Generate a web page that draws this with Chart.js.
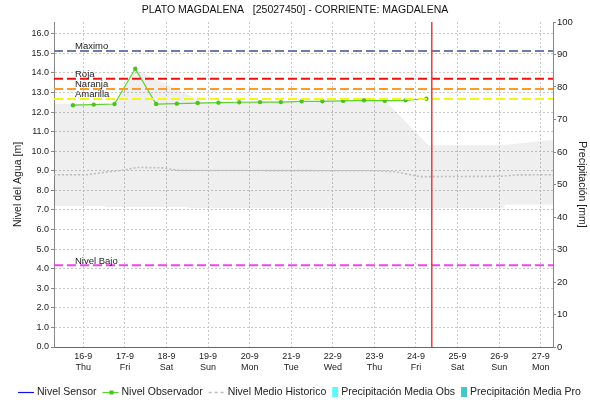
<!DOCTYPE html>
<html>
<head>
<meta charset="utf-8">
<script src="https://cdn.jsdelivr.net/npm/chart.js@4.4.1/dist/chart.umd.min.js"></script>
<style>
  html, body { margin: 0; padding: 0; background: #fff; }
</style>
</head>
<body>
<canvas id="chart" width="590" height="402"></canvas>
<script>
'use strict';

// time axis is in days of September (15.5 = 15-9 12:00)
var xMin = 15.295;
var xMax = 27.295;
var dayTicks = [16, 17, 18, 19, 20, 21, 22, 23, 24, 25, 26, 27];
var dayNames = ['Thu', 'Fri', 'Sat', 'Sun', 'Mon', 'Tue', 'Wed', 'Thu', 'Fri', 'Sat', 'Sun', 'Mon'];
var levelTicks = [0, 1, 2, 3, 4, 5, 6, 7, 8, 9, 10, 11, 12, 13, 14, 15, 16];

// observer readings, twice a day
var obsTimes = [15.75, 16.25, 16.75, 17.25, 17.75, 18.25, 18.75, 19.25, 19.75,
                20.25, 20.75, 21.25, 21.75, 22.25, 22.75, 23.25, 23.75, 24.25];
var obsLevels = [12.35, 12.38, 12.41, 14.21, 12.41, 12.43, 12.46, 12.48, 12.50,
                 12.51, 12.51, 12.55, 12.55, 12.57, 12.60, 12.58, 12.60, 12.68];

// historical mean level
var meanTimes = [15.295, 16.1, 16.5, 17.0, 17.3, 17.9, 18.3, 23.0, 23.5, 24.1, 26.05, 26.4, 27.295];
var meanLevels = [8.80, 8.80, 8.92, 9.05, 9.17, 9.15, 9.02, 9.00, 8.95, 8.70, 8.72, 8.79, 8.80];

// historical range (shaded band)
var bandTopTimes = [15.295, 16.75, 17.27, 18.9, 23.25, 24.3, 26.05, 27.295];
var bandTopLevels = [12.42, 12.42, 14.15, 12.50, 12.60, 10.30, 10.30, 10.58];
var bandLowTimes = [15.295, 16.5, 16.55, 18.5, 18.55, 26.1, 26.15, 27.295];
var bandLowLevels = [7.20, 7.20, 7.15, 7.15, 7.09, 7.09, 7.26, 7.26];

// alert levels
var alertNames = ['Maximo', 'Roja', 'Naranja', 'Amarilla', 'Nivel Bajo'];
var alertLevels = [15.12, 13.70, 13.18, 12.67, 4.18];
var alertColors = ['#6b7ca6', '#f01010', '#ff9a2a', '#f4f415', '#ee44ee'];

var sensorLevels = [];
var precipObs = [];
var precipPro = [];

var nowTime = 24.38;

var fontFamily = '"Liberation Sans", Arial, sans-serif';

function pts(xs, ys) {
  var out = [];
  for (var i = 0; i < xs.length; i++) {
    out.push({x: xs[i], y: ys[i]});
  }
  return out;
}

var datasets = [
  {
    label: 'Nivel Sensor',
    legendKind: 'line',
    data: sensorLevels,
    borderColor: '#1010ee',
    borderWidth: 1.5,
    pointRadius: 0,
    order: 2
  },
  {
    label: 'Nivel Observador',
    legendKind: 'marker',
    data: pts(obsTimes, obsLevels),
    borderColor: '#5cd22c',
    backgroundColor: '#5cd22c',
    borderWidth: 1.2,
    pointRadius: 2.2,
    pointBorderWidth: 0,
    pointBackgroundColor: '#4cc21c',
    order: 3
  },
  {
    label: 'Nivel Medio Historico',
    legendKind: 'dots',
    data: pts(meanTimes, meanLevels),
    borderColor: '#bdbdbd',
    borderWidth: 1.6,
    borderDash: [2, 2],
    pointRadius: 0,
    order: 4
  },
  {
    label: 'Precipitación Media Obs',
    legendKind: 'box',
    yAxisID: 'yP',
    data: precipObs,
    borderColor: '#5ff8f8',
    backgroundColor: '#5ff8f8',
    pointRadius: 0,
    order: 5
  },
  {
    label: 'Precipitación Media Pro',
    legendKind: 'box',
    yAxisID: 'yP',
    data: precipPro,
    borderColor: '#45c6c6',
    backgroundColor: '#45c6c6',
    pointRadius: 0,
    order: 5
  },
  {
    label: 'band low',
    data: pts(bandLowTimes, bandLowLevels),
    borderWidth: 0,
    borderColor: 'rgba(0,0,0,0)',
    pointRadius: 0,
    order: 10
  },
  {
    label: 'band top',
    data: pts(bandTopTimes, bandTopLevels),
    borderWidth: 0,
    borderColor: 'rgba(0,0,0,0)',
    backgroundColor: 'rgba(0,0,0,0.062)',
    fill: '-1',
    pointRadius: 0,
    order: 9
  }
];

for (var i = 0; i < alertNames.length; i++) {
  datasets.push({
    label: alertNames[i],
    tagText: alertNames[i],
    data: [{x: xMin, y: alertLevels[i]}, {x: xMax, y: alertLevels[i]}],
    borderColor: alertColors[i],
    borderWidth: 2,
    borderDash: [9, 4],
    pointRadius: 0,
    order: 1
  });
}

datasets.push({
  label: 'ahora',
  data: [{x: nowTime, y: 0}, {x: nowTime, y: 16.6}],
  borderColor: '#f23a3a',
  borderWidth: 1.5,
  pointRadius: 0,
  order: 0
});

// names written over the alert lines
var alertTags = {
  id: 'alertTags',
  afterDatasetsDraw: function (chart) {
    var ctx = chart.ctx;
    var yScale = chart.scales.y;
    ctx.save();
    ctx.font = '9.5px ' + fontFamily;
    ctx.fillStyle = '#222';
    ctx.textAlign = 'left';
    ctx.textBaseline = 'alphabetic';
    chart.data.datasets.forEach(function (ds) {
      if (!ds.tagText) return;
      var y = yScale.getPixelForValue(ds.data[0].y);
      ctx.fillText(ds.tagText, chart.chartArea.left + 21, y - 1.5);
    });
    ctx.restore();
  }
};

// legend row along the bottom
var bottomLegend = {
  id: 'bottomLegend',
  afterDraw: function (chart) {
    var ctx = chart.ctx;
    var x = 18;
    var y = 392;
    ctx.save();
    ctx.font = '10.5px ' + fontFamily;
    ctx.textBaseline = 'middle';
    ctx.textAlign = 'left';
    chart.data.datasets.forEach(function (ds) {
      if (!ds.legendKind) return;
      if (ds.legendKind === 'box') {
        ctx.fillStyle = ds.backgroundColor;
        ctx.fillRect(x, y - 5, 6, 10);
        x += 9;
      } else {
        ctx.strokeStyle = ds.borderColor;
        ctx.lineWidth = ds.legendKind === 'dots' ? 1.5 : 1.2;
        ctx.setLineDash(ds.legendKind === 'dots' ? [3, 3] : []);
        ctx.beginPath();
        ctx.moveTo(x, y + 0.5);
        ctx.lineTo(x + 16, y + 0.5);
        ctx.stroke();
        ctx.setLineDash([]);
        if (ds.legendKind === 'marker') {
          ctx.fillStyle = ds.pointBackgroundColor;
          ctx.fillRect(x + 7, y - 1.5, 4, 4);
        }
        x += 19;
      }
      ctx.fillStyle = '#222';
      ctx.fillText(ds.label, x, y);
      x += ctx.measureText(ds.label).width + 6;
    });
    ctx.restore();
  }
};

new Chart(document.getElementById('chart'), {
  type: 'line',
  data: {datasets: datasets},
  plugins: [alertTags, bottomLegend],
  options: {
    responsive: false,
    animation: false,
    events: [],
    layout: {padding: {left: 0, right: 0, top: 0, bottom: 25}},
    elements: {line: {tension: 0}},
    plugins: {
      legend: {display: false},
      tooltip: {enabled: false},
      filler: {propagate: false},
      title: {
        display: true,
        text: 'PLATO MAGDALENA   [25027450] - CORRIENTE: MAGDALENA',
        color: '#111',
        font: {family: fontFamily, size: 10.5, weight: 'normal'},
        padding: {top: 4, bottom: 5.4}
      }
    },
    scales: {
      x: {
        type: 'linear',
        min: xMin,
        max: xMax,
        afterBuildTicks: function (s) {
          s.ticks = dayTicks.map(function (d) { return {value: d}; });
        },
        afterFit: function (s) { s.height = 30; },
        ticks: {
          autoSkip: false,
          maxRotation: 0,
          padding: 4,
          color: '#222',
          font: {family: fontFamily, size: 9},
          callback: function (v, i) { return [v + '-9', dayNames[i]]; }
        },
        grid: {color: '#c8c8c8', drawTicks: false},
        border: {color: '#666', width: 1, dash: [2, 2]}
      },
      y: {
        position: 'left',
        min: 0,
        max: 16.6,
        afterBuildTicks: function (s) {
          s.ticks = levelTicks.map(function (v) { return {value: v}; });
        },
        afterFit: function (s) { s.width = 54; },
        ticks: {
          padding: 2,
          color: '#222',
          font: {family: fontFamily, size: 9},
          callback: function (v) { return Number(v).toFixed(1); }
        },
        grid: {color: '#c8c8c8', tickLength: 3, tickColor: '#888', tickBorderDash: []},
        border: {color: '#888', width: 1, dash: [2, 2]},
        title: {
          display: true,
          text: 'Nivel del Agua [m]',
          color: '#222',
          font: {family: fontFamily, size: 10.5},
          padding: {top: 12, bottom: 0}
        }
      },
      yP: {
        position: 'right',
        min: 0,
        max: 100,
        afterFit: function (s) { s.width = 37; },
        ticks: {
          stepSize: 10,
          padding: 1,
          color: '#222',
          font: {family: fontFamily, size: 9.5}
        },
        grid: {drawOnChartArea: false, tickLength: 3, tickColor: '#888'},
        border: {color: '#888', width: 1},
        title: {
          display: true,
          text: 'Precipitación [mm]',
          color: '#222',
          font: {family: fontFamily, size: 10.5},
          padding: {top: 2, bottom: 0}
        }
      }
    }
  }
});
</script>
</body>
</html>
